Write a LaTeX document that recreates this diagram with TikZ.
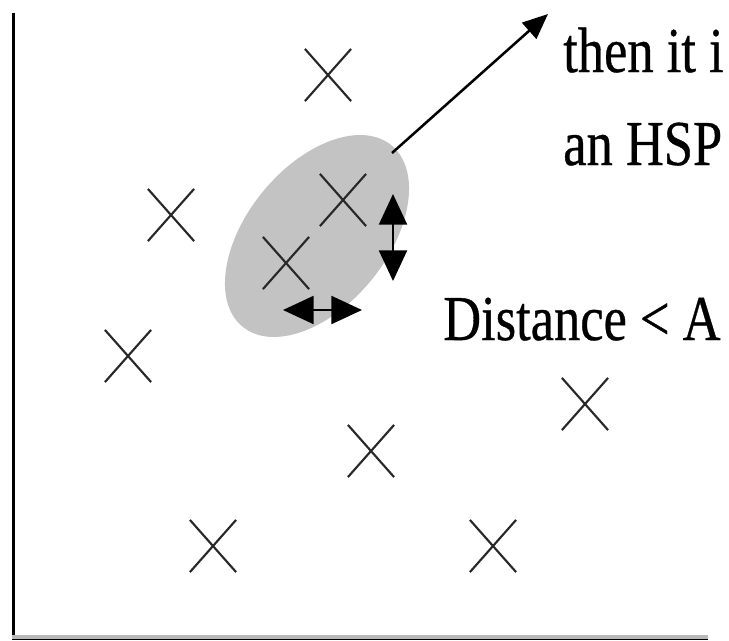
\documentclass[tikz,border=0pt]{standalone}
\usepackage{fontspec}
\setmainfont{Liberation Serif}
\newfontfamily\labelfont{Liberation Serif}[FakeBold=0.6]
\usetikzlibrary{shapes.misc,shapes.geometric,arrows.meta}

\definecolor{blobgray}{RGB}{195,195,195}
\definecolor{markgray}{RGB}{40,40,40}
\definecolor{basegray}{RGB}{185,185,185}

\tikzset{
  pt/.style={cross out, draw=markgray, line width=1.6pt,
             minimum width=33pt, minimum height=37.5pt, inner sep=0pt},
  blob/.style={ellipse, fill=blobgray, draw=none, inner sep=0pt},
  label/.style={inner sep=0pt, anchor=base west,
                font=\labelfont\fontsize{48}{56}\selectfont},
  pointer/.style={line width=1.9pt, -{Triangle[length=19pt,width=16pt]}},
  span/.style={line width=1.7pt,
               {Triangle[length=23pt,width=21pt]}-{Triangle[length=23pt,width=21pt]}},
}

\newcommand{\narrow}[1]{\scalebox{0.82}[1]{#1}}

\begin{document}
\begin{tikzpicture}[x=0.75pt, y=-0.75pt]
  \useasboundingbox (0,0) rectangle (729,640);

  % axes
  \draw[line width=2.25pt] (13.5,13) -- (13.5,640);
  \draw[basegray, line width=3pt] (12,636.5) -- (708,636.5);
  \draw[black, line width=0.9pt] (12,639.5) -- (708,639.5);

  % cluster region
  \node[blob, minimum width=176pt, minimum height=105pt, rotate=50.6] (cluster) at (317,236) {};

  % data points
  \node[pt] (p1) at (328,75) {};
  \node[pt] (p2) at (171,215) {};
  \node[pt] (p3) at (343,200) {};
  \node[pt] (p4) at (286,263) {};
  \node[pt] (p5) at (128,356) {};
  \node[pt] (p6) at (585,404) {};
  \node[pt] (p7) at (371,451) {};
  \node[pt] (p8) at (213,546) {};
  \node[pt] (p9) at (493,546) {};

  % pointer out of the cluster
  \coordinate (outStart) at (392,153);
  \coordinate (outTip) at (548,14);
  \draw[pointer] (outStart) -- (outTip);

  % distance markers
  \coordinate (vTop) at (393,194);
  \coordinate (vBot) at (393,281);
  \draw[span] (vTop) -- (vBot);
  \coordinate (hLeft) at (283,310);
  \coordinate (hRight) at (362,310);
  \draw[span] (hLeft) -- (hRight);

  % labels
  \node[label] (l1) at (563,72) {\narrow{then it i}};
  \node[label] (l2) at (563,165) {\narrow{an HSP}};
  \node[label] (l3) at (443,340) {\narrow{Distance < A}};
\end{tikzpicture}
\end{document}
